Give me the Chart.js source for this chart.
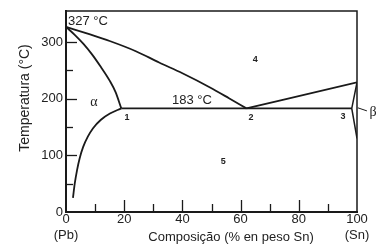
<!DOCTYPE html>
<html>
<head>
<meta charset="utf-8">
<script src="https://cdn.jsdelivr.net/npm/chart.js@4/dist/chart.umd.min.js"></script>
<style>
  html, body { margin: 0; padding: 0; background: #fff; }
  #wrap { width: 382px; height: 250px; }
</style>
</head>
<body>
<div id="wrap"><canvas id="c" width="382" height="250"></canvas></div>
<script>
// phase boundaries, [wt% Sn, temperature °C]
const liquidusLeft = [[0, 327], [8, 314], [15, 302], [24, 284], [32, 264], [40, 245], [49.5, 220], [56, 201], [62, 183]];
const liquidusRight = [[62, 183], [100, 229]];
const solidusAlpha = [[0, 327], [3, 313], [6, 297], [9, 278], [12, 256], [15, 232], [17, 212], [19, 183]];
const solvusAlpha = [[2.4, 25], [3, 50], [3.8, 74], [4.7, 95], [5.9, 115], [7.5, 133], [9.3, 148], [12, 163], [15.1, 174], [19, 183]];
const eutecticLine = [[19, 183], [98.2, 183]];
const betaBoundary = [[100, 229], [98.2, 183], [100, 130]];

const xTickValues = [0, 20, 40, 60, 80, 100];
const yTickValues = [0, 100, 200, 300];
const xMinorTicks = [10, 20, 30, 40, 50, 60, 70, 80, 90];
const yMinorTicks = [50, 100, 150, 200, 250, 300];

// text annotations [x, T, text]
const pointLabels = [[21, 166, '1'], [63.6, 166, '2'], [95.2, 168, '3'], [65, 270, '4'], [54, 90, '5']];

const ink = '#1a1a1a';

function line(points) {
    return {
        data: points.map(p => ({ x: p[0], y: p[1] })),
        showLine: true,
        borderColor: ink,
        borderWidth: 1.8,
        pointRadius: 0,
        cubicInterpolationMode: 'monotone',
        fill: false
    };
}

const decorPlugin = {
    id: 'phase_decor',
    afterDraw: (chart) => {
        const ctx = chart.ctx;
        const xs = chart.scales.x, ys = chart.scales.y;
        const a = chart.chartArea;
        ctx.save();
        ctx.strokeStyle = ink;
        // top and right frame
        ctx.lineWidth = 1.5;
        ctx.beginPath();
        ctx.moveTo(a.left, a.top);
        ctx.lineTo(a.right, a.top);
        ctx.lineTo(a.right, a.bottom);
        ctx.stroke();
        // inner ticks
        ctx.lineWidth = 1.3;
        xMinorTicks.forEach(v => {
            const px = Math.round(xs.getPixelForValue(v)) + 0.5;
            const len = v % 20 === 0 ? 12 : 8;
            ctx.beginPath();
            ctx.moveTo(px, a.bottom);
            ctx.lineTo(px, a.bottom - len);
            ctx.stroke();
        });
        yMinorTicks.forEach(v => {
            const py = Math.round(ys.getPixelForValue(v)) + 0.5;
            const len = v % 100 === 0 ? 11 : 7;
            ctx.beginPath();
            ctx.moveTo(a.left, py);
            ctx.lineTo(a.left + len, py);
            ctx.stroke();
        });
        // beta leader
        ctx.lineWidth = 1;
        ctx.beginPath();
        ctx.moveTo(xs.getPixelForValue(100.3), ys.getPixelForValue(184));
        ctx.lineTo(xs.getPixelForValue(103.4), ys.getPixelForValue(178.6));
        ctx.stroke();

        ctx.fillStyle = '#222';
        ctx.textBaseline = 'middle';
        ctx.font = '13px "Liberation Sans", Arial, sans-serif';
        ctx.textAlign = 'left';
        ctx.fillText('327 °C', xs.getPixelForValue(0.7), ys.getPixelForValue(337));
        ctx.textAlign = 'center';
        ctx.fillText('183 °C', xs.getPixelForValue(43.3), ys.getPixelForValue(196.4));

        ctx.font = '14px "Liberation Serif", "DejaVu Serif", serif';
        ctx.fillText('α', xs.getPixelForValue(9.6), ys.getPixelForValue(194));
        ctx.fillText('β', xs.getPixelForValue(105.5), ys.getPixelForValue(176));

        ctx.font = 'bold 9px "Liberation Sans", Arial, sans-serif';
        pointLabels.forEach(l => {
            ctx.fillText(l[2], xs.getPixelForValue(l[0]), ys.getPixelForValue(l[1]));
        });

        // axis titles
        ctx.font = '13px "Liberation Sans", Arial, sans-serif';
        ctx.fillText('Composição (% en peso Sn)', 231, 237);
        ctx.translate(25, 98);
        ctx.rotate(-Math.PI / 2);
        ctx.font = '14px "Liberation Sans", Arial, sans-serif';
        ctx.fillText('Temperatura (°C)', 0, 0);
        ctx.restore();
    }
};

new Chart(document.getElementById('c'), {
    type: 'scatter',
    data: {
        datasets: [
            line(liquidusLeft),
            line(liquidusRight),
            line(solidusAlpha),
            line(solvusAlpha),
            Object.assign(line(eutecticLine), { cubicInterpolationMode: 'default', tension: 0 }),
            Object.assign(line(betaBoundary), { cubicInterpolationMode: 'default', tension: 0, borderWidth: 1.5 })
        ]
    },
    options: {
        responsive: false,
        animation: false,
        layout: { padding: { top: 11, right: 25, left: 0, bottom: 0 } },
        plugins: { legend: { display: false }, tooltip: { enabled: false } },
        scales: {
            x: {
                type: 'linear',
                min: 0,
                max: 100,
                afterBuildTicks: (s) => { s.ticks = xTickValues.map(v => ({ value: v })); },
                afterFit: (s) => { s.height = 38; },
                grid: { drawOnChartArea: false, drawTicks: false, tickLength: 0 },
                border: { display: true, color: ink, width: 2 },
                ticks: {
                    padding: 0,
                    color: '#222',
                    maxRotation: 0,
                    autoSkip: false,
                    font: { family: '"Liberation Sans", Arial, sans-serif', size: 13 },
                    callback: (v) => v === 0 ? ['0', '(Pb)'] : (v === 100 ? ['100', '(Sn)'] : String(v))
                }
            },
            y: {
                type: 'linear',
                min: 0,
                max: 355,
                afterBuildTicks: (s) => { s.ticks = yTickValues.map(v => ({ value: v })); },
                afterFit: (s) => { s.width = 66; },
                grid: { drawOnChartArea: false, drawTicks: false, tickLength: 0 },
                border: { display: true, color: ink, width: 2 },
                ticks: {
                    padding: 3,
                    color: '#222',
                    font: { family: '"Liberation Sans", Arial, sans-serif', size: 13 }
                }
            }
        }
    },
    plugins: [decorPlugin]
});
</script>
</body>
</html>
